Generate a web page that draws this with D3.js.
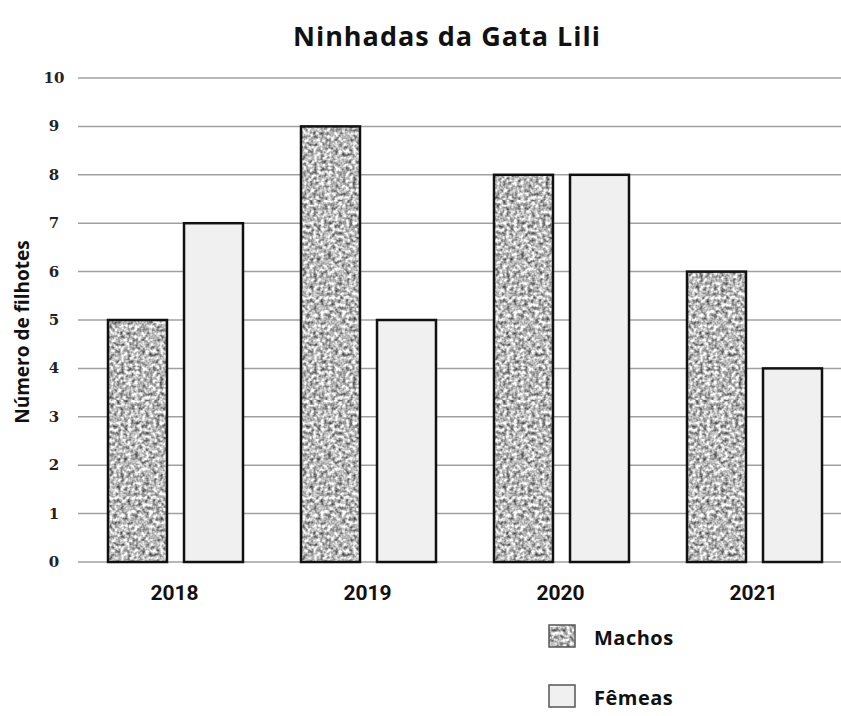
<!DOCTYPE html>
<html><head><meta charset="utf-8">
<script src="https://cdn.jsdelivr.net/npm/d3@7"></script>
<style>body{margin:0;background:#fff}</style>
</head><body>
<script>
const years = ["2018","2019","2020","2021"];
const series = ["Machos","Fêmeas"];
const machos = [5,9,8,6];
const femeas = [7,5,8,4];
const yTicks = [0,1,2,3,4,5,6,7,8,9,10];

const W=841,H=716;
const svg=d3.select("body").append("svg").attr("width",W).attr("height",H);
const defs=svg.append("defs");
const f=defs.append("filter").attr("id","noise").attr("x",0).attr("y",0).attr("width","100%").attr("height","100%")
 .attr("color-interpolation-filters","sRGB");
f.append("feTurbulence").attr("type","fractalNoise").attr("baseFrequency",0.28).attr("numOctaves",2).attr("seed",5).attr("result","t");
f.append("feColorMatrix").attr("in","t").attr("type","matrix")
 .attr("values","1.3 0 0 0 0.08  1.3 0 0 0 0.08  1.3 0 0 0 0.08  0 0 0 0 1");
const pat=defs.append("pattern").attr("id","speck").attr("patternUnits","userSpaceOnUse").attr("width",200).attr("height",200);
pat.append("rect").attr("width",200).attr("height",200).attr("fill","#bbb").attr("filter","url(#noise)");

const x0=d3.scaleBand().domain(years).range([78,850]).paddingInner(0).paddingOuter(0);
const x1=d3.scaleBand().domain(series).range([30,165]).paddingInner(0.224);
const y=d3.scaleLinear().domain([0,10]).range([562,78]);

// gridlines
svg.append("g").selectAll("line").data(yTicks).join("line")
 .attr("x1",78).attr("x2",841).attr("y1",d=>y(d)).attr("y2",d=>y(d))
 .attr("stroke","#a0a0a0").attr("stroke-width",1.5);
// y tick labels
svg.append("g").selectAll("text").data(yTicks).join("text")
 .attr("x",54).attr("y",d=>y(d)+5).attr("text-anchor","middle")
 .attr("font-family","DejaVu Serif").attr("font-weight","bold").attr("font-size",15)
 .attr("fill","#222").text(d=>d);

const fills={"Machos":"url(#speck)","Fêmeas":"#f0f0f0"};
const data=years.map((yr,i)=>({yr,vals:[{s:"Machos",v:machos[i]},{s:"Fêmeas",v:femeas[i]}]}));
const g=svg.append("g").selectAll("g").data(data).join("g").attr("transform",d=>`translate(${x0(d.yr)},0)`);
g.selectAll("rect").data(d=>d.vals).join("rect")
 .attr("x",d=>x1(d.s)).attr("width",x1.bandwidth())
 .attr("y",d=>y(d.v)).attr("height",d=>y(0)-y(d.v))
 .attr("fill",d=>fills[d.s]).attr("stroke","#111").attr("stroke-width",2.5);

// x labels
svg.append("g").selectAll("text").data(years).join("text")
 .attr("x",d=>x0(d)+x0.bandwidth()/2).attr("y",600).attr("text-anchor","middle")
 .attr("font-family","Roboto, sans-serif").attr("font-weight","bold").attr("font-size",21)
 .attr("fill","#111").text(d=>d);

// title
svg.append("text").attr("x",447).attr("y",46).attr("text-anchor","middle")
 .attr("font-family","Open Sans").attr("font-weight","bold").attr("font-size",27)
 .attr("letter-spacing",1).attr("fill","#111").text("Ninhadas da Gata Lili");

// y axis title
svg.append("text").attr("transform","translate(29,332) rotate(-90)").attr("text-anchor","middle")
 .attr("font-family","Open Sans").attr("font-weight","bold").attr("font-size",19)
 .attr("fill","#111").text("Número de filhotes");

// legend
const lg=svg.append("g").selectAll("g").data(series).join("g")
 .attr("transform",(d,i)=>`translate(549,${625+i*60})`);
lg.append("rect").attr("width",26).attr("height",22)
 .attr("fill",d=>fills[d]).attr("stroke","#555").attr("stroke-width",1.5);
lg.append("text").attr("x",45).attr("y",20)
 .attr("font-family","Open Sans").attr("font-weight","bold").attr("font-size",20)
 .attr("letter-spacing",0.5).attr("fill","#111").text(d=>d);
</script>
</body></html>
